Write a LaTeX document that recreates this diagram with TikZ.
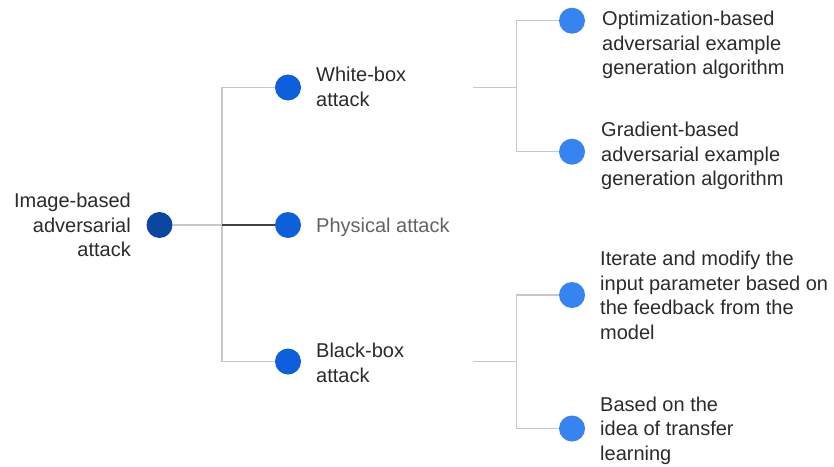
\documentclass[tikz,border=0pt]{standalone}
\usepackage{fontspec}
\setmainfont{Liberation Sans}
\definecolor{rootc}{HTML}{0B47A0}
\definecolor{midc}{HTML}{0D5FDC}
\definecolor{leafc}{HTML}{3584F0}
\definecolor{linec}{HTML}{C8C8C8}
\definecolor{txtc}{HTML}{2B2B2B}
\definecolor{greytxt}{HTML}{5F6368}
\begin{document}
\begin{tikzpicture}[x=1pt,y=-1pt,
  dotnode/.style={circle,minimum size=26pt,inner sep=0pt,draw=none},
  label/.style={inner sep=0pt,text=txtc,font=\fontsize{20}{24.7}\selectfont},
  conn/.style={draw=linec,line width=1.3pt},
  darkconn/.style={draw=black!75,line width=1.3pt}]
\useasboundingbox (0,0) rectangle (834,466);
% dots
\node[dotnode,fill=rootc] (r) at (159.5,225) {};
\node[dotnode,fill=midc] (wb) at (288,87.5) {};
\node[dotnode,fill=midc] (ph) at (288,225) {};
\node[dotnode,fill=midc] (bb) at (288,361.5) {};
\node[dotnode,fill=leafc] (l1) at (572,20.7) {};
\node[dotnode,fill=leafc] (l2) at (572,151.7) {};
\node[dotnode,fill=leafc] (l3) at (572,295) {};
\node[dotnode,fill=leafc] (l4) at (572,428.5) {};
% junctions
\coordinate (j1) at (222,225);
\coordinate (s2) at (473,87.7);
\coordinate (j2) at (516.7,87.7);
\coordinate (s3) at (473,361.7);
\coordinate (j3) at (516.7,361.7);
% connectors
\draw[conn] (r) -- (j1);
\draw[conn] (wb) -| (j1);
\draw[conn] (bb) -| (j1);
\draw[darkconn] (j1) -- (ph);
\draw[conn] (s2) -- (j2);
\draw[conn] (j2) |- (l1);
\draw[conn] (j2) |- (l2);
\draw[conn] (s3) -- (j3);
\draw[conn] (j3) |- (l3);
\draw[conn] (j3) |- (l4);
% texts
\node[label,anchor=north east,align=right] (tr) at (131,192.7) {Image-based\\adversarial\\attack};
\node[label,anchor=north west,align=left] (twb) at (316,66.7) {White-box\\attack};
\node[label,anchor=base west,text=greytxt] (tph) at (316,232) {Physical attack};
\node[label,anchor=north west,align=left] (tbb) at (316,343) {Black-box\\attack};
\node[label,anchor=north west,align=left] (t1) at (602,10.7) {Optimization-based\\adversarial example\\generation algorithm};
\node[label,anchor=north west,align=left] (t2) at (601,121.7) {Gradient-based\\adversarial example\\generation algorithm};
\node[label,anchor=north west,align=left] (t3) at (600,250.7) {Iterate and modify the\\input parameter based on\\the feedback from the\\model};
\node[label,anchor=north west,align=left] (t4) at (600,396.4) {Based on the\\idea of transfer\\learning};
\end{tikzpicture}
\end{document}
